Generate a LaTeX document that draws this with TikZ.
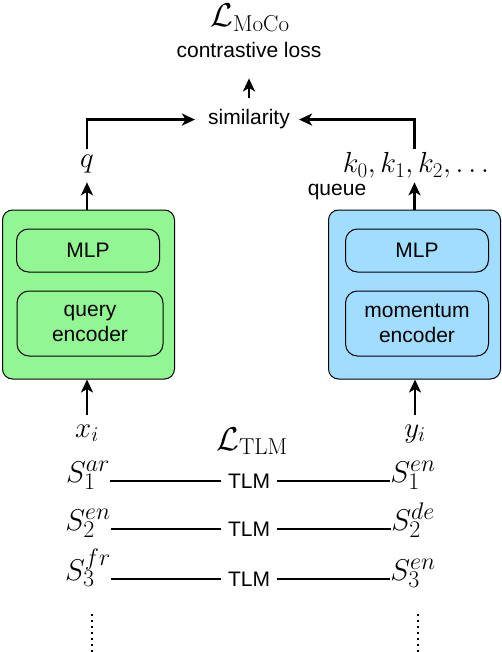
\RequirePackage{fix-cm}
\documentclass[tikz,border=0pt]{standalone}
\usepackage{fontspec}
\newfontfamily\helv{Liberation Sans}
\usetikzlibrary{positioning,arrows.meta}
\DeclareMathSizes{29}{29}{21}{16}
\DeclareMathSizes{30}{30}{24}{18}
\DeclareMathSizes{33}{33}{23}{17}
\definecolor{querygreen}{RGB}{146,246,146}
\definecolor{keyblue}{RGB}{160,221,255}
\tikzset{
  lbl/.style={font=\helv\fontsize{21}{25}\selectfont, inner sep=1pt, align=center},
  mth/.style={font=\fontsize{29}{34}\selectfont, inner sep=1pt, anchor=base},
  sent/.style={font=\fontsize{30}{36}\selectfont, inner sep=0pt, anchor=base},
  loss/.style={font=\fontsize{33}{40}\selectfont, inner sep=0pt, anchor=base},
  encbox/.style={draw, line width=1pt, rounded corners=10pt, minimum width=172pt, minimum height=169pt},
  layer/.style={lbl, draw, line width=1pt, rounded corners=12pt, minimum width=143pt},
  arr/.style={line width=2.5pt, -{Stealth[length=13pt,width=12pt,inset=3.5pt]}},
  link/.style={line width=1.8pt},
}
\begin{document}
\begin{tikzpicture}[x=1pt,y=-1pt]
  \useasboundingbox (0,0) rectangle (502,652);

  % top: loss and similarity
  \node[loss] (moco) at (250,27) {$\mathcal{L}_{\mathrm{MoCo}}$};
  \node[lbl, anchor=base] (closs) at (249,58) {contrastive loss};
  \node[lbl, anchor=base] (sim) at (249,125) {similarity};

  % outputs
  \node[mth] (q) at (87,167.5) {$q$};
  \node[mth] (keys) at (416,173) {$k_0, k_1, k_2, \ldots$};
  \node[lbl, anchor=base] (queue) at (337,196) {queue};

  % encoders
  \node[encbox, fill=querygreen] (qbox) at (88.5,294.5) {};
  \node[layer, minimum height=43pt] (qmlp) at (88,250.5) {MLP};
  \node[layer, minimum height=65pt, minimum width=146pt] (qenc) at (90,323.5) {query\\encoder};

  \node[encbox, fill=keyblue] (kbox) at (414.5,294.5) {};
  \node[layer, minimum height=43pt] (kmlp) at (417,250.5) {MLP};
  \node[layer, minimum height=65pt] (kenc) at (417,323.5) {momentum\\encoder};

  % inputs
  \node[mth] (x) at (87,437) {$x_i$};
  \node[mth] (y) at (415,437) {$y_i$};
  \node[loss] (tlm) at (252,450) {$\mathcal{L}_{\mathrm{TLM}}$};

  \foreach \i/\yy/\src/\tgt in {1/482/ar/en, 2/530/en/de, 3/580/fr/en} {
    \node[sent] (sl\i) at (88,\yy) {$S_{\i}^{\src}$};
    \node[sent] (sr\i) at (413,\yy) {$S_{\i}^{\tgt}$};
    \node[lbl, inner xsep=7pt] (tl\i) at (249,\yy-1) {TLM};
    \draw[link] (sl\i.east |- tl\i) -- (tl\i.west);
    \draw[link] (tl\i.east) -- (sr\i.west |- tl\i);
  }

  \coordinate (dl) at (92,614);
  \coordinate (dlend) at (92,652);
  \coordinate (dr) at (418,614);
  \coordinate (drend) at (418,652);
  \draw[line width=2pt, dash pattern=on 2pt off 4pt] (dl) -- (dlend);
  \draw[line width=2pt, dash pattern=on 2pt off 4pt] (dr) -- (drend);

  % arrows
  \draw[arr, shorten <=11pt, shorten >=19pt] (sim) -- (closs);
  \draw[arr, shorten <=5pt, shorten >=12pt] (q.north) |- (sim.west);
  \draw[arr, shorten <=3pt, shorten >=8pt] (keys.north -| kbox.north) |- (sim.east);
  \draw[arr, shorten >=8pt] (qbox.north -| q) -- (q.south);
  \draw[arr, shorten >=2.5pt] (kbox.north) -- (kbox.north |- keys.south);
  \draw[arr, shorten <=8.5pt] (x.north) -- (qbox.south -| x);
  \draw[arr, shorten <=8.5pt] (y.north) -- (kbox.south -| y);
\end{tikzpicture}
\end{document}
